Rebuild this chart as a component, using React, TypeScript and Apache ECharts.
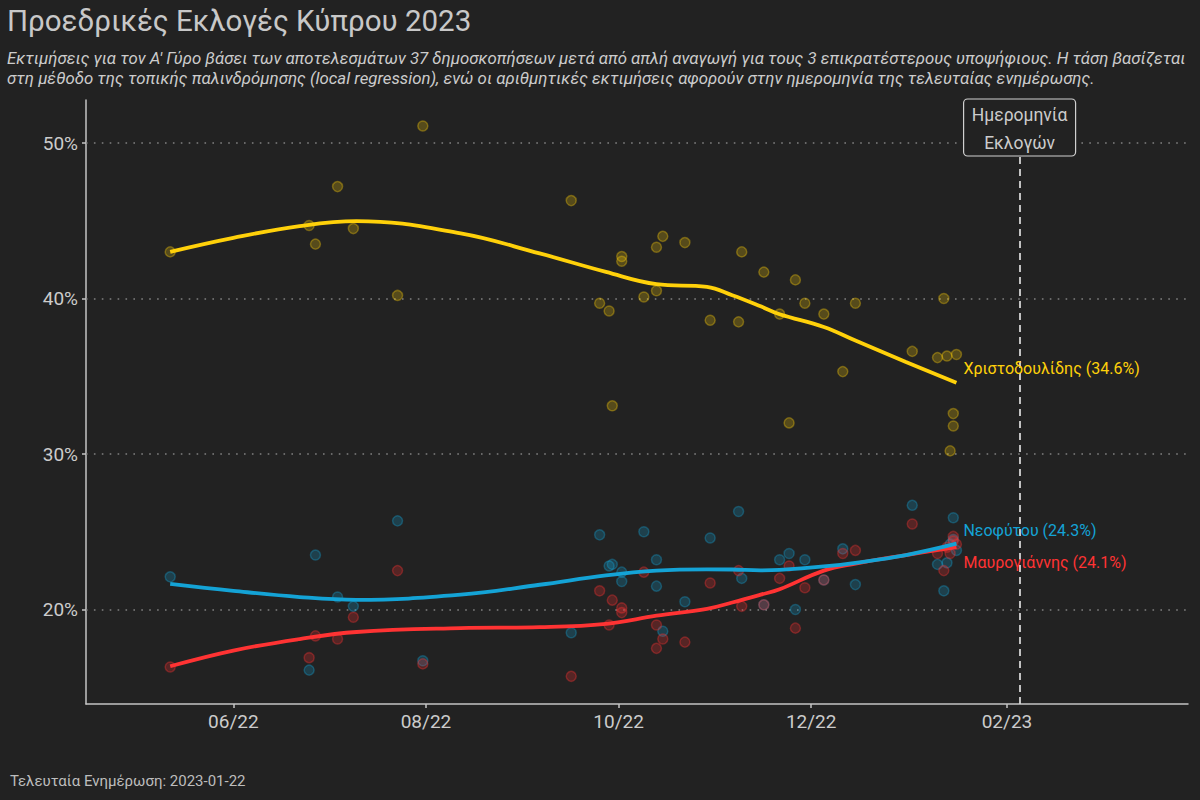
import { useEffect, useRef } from "react";
import * as echarts from "echarts";

// Polls (date, share after reduction to the 3 leading candidates)
const pollDates = [
  "2022-05-12", "2022-06-25", "2022-06-27", "2022-07-04", "2022-07-09", "2022-07-23", "2022-07-31",
  "2022-09-16", "2022-09-25", "2022-09-28", "2022-09-29", "2022-10-02", "2022-10-02", "2022-10-09",
  "2022-10-13", "2022-10-13", "2022-10-15", "2022-10-22", "2022-10-30", "2022-11-08", "2022-11-09",
  "2022-11-16", "2022-11-21", "2022-11-24", "2022-11-26", "2022-11-29", "2022-12-05", "2022-12-11",
  "2022-12-15", "2023-01-02", "2023-01-10", "2023-01-12", "2023-01-13", "2023-01-14", "2023-01-15",
  "2023-01-15", "2023-01-16",
];
const christodoulides = [
  43.0, 44.7, 43.5, 47.2, 44.5, 40.2, 51.1,
  46.3, 39.7, 39.2, 33.1, 42.7, 42.4, 40.1,
  43.3, 40.5, 44.0, 43.6, 38.6, 38.5, 43.0,
  41.7, 39.0, 32.0, 41.2, 39.7, 39.0, 35.3,
  39.7, 36.6, 36.2, 40.0, 36.3, 30.2, 32.6,
  31.8, 36.4,
];
const neofytou = [
  22.1, 16.1, 23.5, 20.8, 20.2, 25.7, 16.7,
  18.5, 24.8, 22.8, 22.9, 22.4, 21.8, 25.0,
  23.2, 21.5, 18.6, 20.5, 24.6, 26.3, 22.0,
  20.3, 23.2, 23.6, 20.0, 23.2, 21.9, 23.9,
  21.6, 26.7, 22.9, 21.2, 23.0, 24.2, 25.9,
  24.5, 23.8,
];
const mavrogiannis = [
  16.3, 16.9, 18.3, 18.1, 19.5, 22.5, 16.5,
  15.7, 21.2, 19.0, 20.6, 20.1, 19.8, 22.4,
  17.5, 19.0, 18.1, 17.9, 21.7, 22.5, 20.2,
  20.3, 22.0, 22.8, 18.8, 21.4, 21.9, 23.6,
  23.8, 25.5, 23.6, 22.5, 24.0, 23.6, 24.7,
  24.4, 24.2,
];

const trendDates = [
  "2022-05-12", "2022-06-01", "2022-06-22", "2022-07-10", "2022-08-12", "2022-09-06", "2022-09-27",
  "2022-10-13", "2022-10-29", "2022-11-06", "2022-11-15", "2022-11-21", "2022-12-05", "2022-12-15",
  "2022-12-31", "2023-01-16",
];
const christodoulidesTrend = [
  43.0, 43.9, 44.66, 44.98, 44.19, 42.9, 41.71, 40.92, 40.75, 40.21, 39.5, 38.99, 38.17, 37.3, 35.92, 34.59,
];
const neofytouTrend = [
  21.65, 21.2, 20.8, 20.62, 20.95, 21.59, 22.19, 22.5, 22.58, 22.57, 22.52, 22.55, 22.77, 23.0, 23.5, 24.23,
];
const mavrogiannisTrend = [
  16.35, 17.36, 18.1, 18.55, 18.8, 18.86, 19.08, 19.6, 20.04, 20.45, 20.95, 21.3, 22.5, 22.95, 23.5, 24.01,
];

const candidates = ["Χριστοδουλίδης", "Νεοφύτου", "Μαυρογιάννης"];
const estimates = [34.6, 24.3, 24.1];
const colors = ["#ffd10a", "#14a3d6", "#ff3333"];
const pointColors = ["rgba(255,209,10,0.3)", "rgba(20,163,214,0.3)", "rgba(255,51,51,0.3)"];
const pointBorders = ["rgba(255,209,10,0.42)", "rgba(20,163,214,0.42)", "rgba(255,51,51,0.42)"];

const yTicks = [20, 30, 40, 50];
const xTicks = ["2022-06-01", "2022-08-01", "2022-10-01", "2022-12-01", "2023-02-01"];
const electionDate = "2023-02-05";
const lastUpdate = "2023-01-22";

const BG = "#222222";
const TEXT = "#cccccc";
const FONT = "Roboto, 'Noto Sans', sans-serif";

const ts = (d: string) => Date.parse(d);

export default function App() {
  const ref = useRef<HTMLDivElement>(null);

  useEffect(() => {
    if (!ref.current) return;
    const chart = echarts.init(ref.current, null, { renderer: "svg" });

    const polls = [christodoulides, neofytou, mavrogiannis];
    const trends = [christodoulidesTrend, neofytouTrend, mavrogiannisTrend];
    const offsets = [[0, -14], [0, -13], [0, 15]];

    const scatterSeries = polls.map((vals, i) => ({
      type: "scatter",
      name: candidates[i] + " polls",
      data: pollDates.map((d, j) => [ts(d), vals[j]]),
      symbolSize: 10,
      z: 2,
      itemStyle: { color: pointColors[i], borderColor: pointBorders[i], borderWidth: 1.5 },
      ...(i === 0
        ? {
            markLine: {
              silent: true,
              symbol: ["none", "none"],
              z: 1,
              label: { show: false },
              data: [
                ...yTicks.map((v) => ({
                  yAxis: v,
                  lineStyle: { color: "#808080", width: 1.6, type: [1.6, 6.3] },
                })),
                {
                  xAxis: ts(electionDate),
                  lineStyle: { color: "#d4d4d4", width: 1.8, type: [7, 5] },
                },
              ],
            },
          }
        : {}),
    }));

    const lineOrder = [0, 2, 1];
    const lineSeries = lineOrder.map((i) => ({
      type: "line",
      name: candidates[i],
      data: trendDates.map((d, j) => [ts(d), trends[i][j]]),
      smooth: 0.4,
      showSymbol: false,
      z: 3,
      lineStyle: { color: colors[i], width: 3.8 },
      endLabel: {
        show: true,
        formatter: `${candidates[i]} (${estimates[i].toFixed(1)}%)`,
        color: colors[i],
        fontSize: 16,
        fontFamily: FONT,
        distance: 7,
        offset: offsets[i],
      },
    }));

    const fmtMonth = (v: number) => {
      const d = new Date(v);
      const m = String(d.getUTCMonth() + 1).padStart(2, "0");
      const y = String(d.getUTCFullYear()).slice(2);
      return `${m}/${y}`;
    };

    chart.setOption({
      animation: false,
      backgroundColor: BG,
      textStyle: { fontFamily: FONT },
      title: [
        {
          text: "Προεδρικές Εκλογές Κύπρου 2023",
          subtext:
            "Εκτιμήσεις για τον Α' Γύρο βάσει των αποτελεσμάτων 37 δημοσκοπήσεων μετά από απλή αναγωγή για τους 3 επικρατέστερους υποψήφιους. Η τάση βασίζεται\nστη μέθοδο της τοπικής παλινδρόμησης (local regression), ενώ οι αριθμητικές εκτιμήσεις αφορούν στην ημερομηνία της τελευταίας ενημέρωσης.",
          left: 2,
          top: 1,
          itemGap: 12,
          textStyle: { color: "#c8c8c8", fontSize: 29.5, fontWeight: "normal", fontFamily: FONT },
          subtextStyle: { color: TEXT, fontSize: 16.8, fontStyle: "italic", lineHeight: 20, fontFamily: FONT },
        },
        {
          text: `Τελευταία Ενημέρωση: ${lastUpdate}`,
          left: 5,
          top: 768,
          textStyle: { color: "#bdbdbd", fontSize: 15, fontWeight: "normal", fontFamily: FONT },
        },
      ],
      grid: { left: 86, right: 12, top: 100, bottom: 96, containLabel: false },
      xAxis: {
        type: "value",
        min: Date.UTC(2022, 3, 15, 8),
        max: Date.UTC(2023, 2, 30, 8),
        splitLine: { show: false },
        axisLine: { lineStyle: { color: "#c4c4c4", width: 1.5 } },
        axisTick: {
          show: true,
          length: 4,
          customValues: xTicks.map(ts),
          lineStyle: { color: "#c4c4c4", width: 1.5 },
        },
        axisLabel: {
          customValues: xTicks.map(ts),
          formatter: (v: number) => fmtMonth(v),
          color: TEXT,
          fontSize: 19,
          margin: 8,
          fontFamily: FONT,
        },
      },
      yAxis: {
        type: "value",
        min: 13.92,
        max: 52.77,
        splitLine: { show: false },
        axisLine: { show: true, lineStyle: { color: "#c4c4c4", width: 1.5 } },
        axisTick: {
          show: true,
          length: 4,
          customValues: yTicks,
          lineStyle: { color: "#c4c4c4", width: 1.5 },
        },
        axisLabel: {
          customValues: yTicks,
          formatter: (v: number) => `${v}%`,
          color: TEXT,
          fontSize: 19,
          margin: 8,
          fontFamily: FONT,
        },
      },
      series: [...scatterSeries, ...lineSeries],
    });

    const ex = chart.convertToPixel({ gridIndex: 0 }, [ts(electionDate), 50])[0];
    chart.setOption({
      graphic: [
        {
          type: "rect",
          z: 100,
          shape: { x: ex - 56, y: 99, width: 112, height: 57, r: 4 },
          style: { fill: BG, stroke: "#d0d0d0", lineWidth: 1.2 },
        },
        {
          type: "text",
          z: 101,
          x: ex,
          y: 115,
          style: { text: "Ημερομηνία", fill: TEXT, font: `17.5px ${FONT}`, align: "center", verticalAlign: "middle" },
        },
        {
          type: "text",
          z: 101,
          x: ex,
          y: 143,
          style: { text: "Εκλογών", fill: TEXT, font: `17.5px ${FONT}`, align: "center", verticalAlign: "middle" },
        },
      ],
    });

    return () => chart.dispose();
  }, []);

  return <div ref={ref} style={{ position: "fixed", left: 0, top: 0, width: 1200, height: 800 }} />;
}
